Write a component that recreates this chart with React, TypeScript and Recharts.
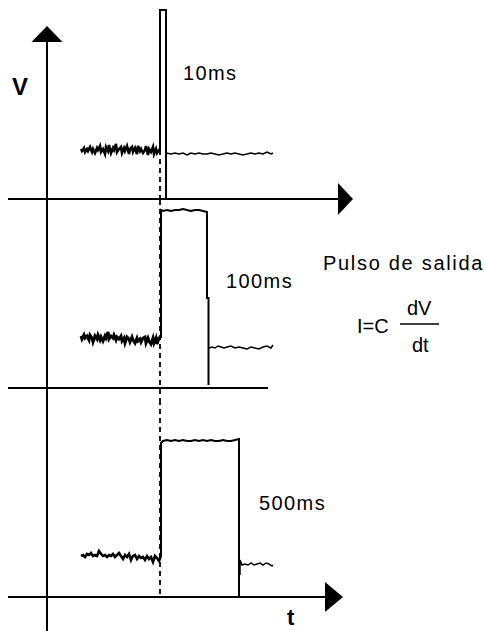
import React from 'react';
import { ComposedChart, Line, Scatter, XAxis, YAxis } from 'recharts';

type P = { t: number; v: number };
const mk = (pairs: number[][]): P[] => pairs.map(([t, v]) => ({ t, v }));

// time axis (arbitrary units, 0 = vertical axis), voltage (arbitrary units, 0 = each panel's time axis)
const TIME_DOMAIN = [-47, 439];

// ---- Panel 1 : 10 ms ----
const pre1 = mk([[34,50],[35,48],[37,51],[38,47],[40,50],[41,48],[43,52],[45,47],[46,50],[48,46],[50,51],[51,49],[53,53],[54,47],[56,50],[58,45],[59,52],[61,48],[62,54],[64,46],[66,51],[67,49],[69,55],[70,47],[72,50],[74,52],[75,46],[77,51],[78,48],[80,53],[82,45],[83,50],[85,52],[86,47],[88,51],[90,45],[91,53],[93,48],[94,50],[96,46],[98,49],[99,53],[101,44],[102,50],[104,47],[106,52],[107,45],[109,50],[110,46],[112,49],[113,49]]);
const spike1 = mk([[113,49],[113,189],[119,189],[119,0]]);
const post1 = mk([[119,46],[124,45],[128,46],[132,45],[136,46],[140,44],[144,46],[148,45],[152,46],[156,45],[160,45],[164,46],[168,45],[172,44],[176,45],[180,46],[184,45],[188,46],[192,45],[196,44],[200,45],[204,46],[208,45],[212,46],[216,45],[220,47],[224,45],[226,46]]);

// ---- Panel 2 : 100 ms ----
const pre2 = mk([[34,52],[35,49],[37,53],[38,50],[40,52],[42,48],[43,53],[45,50],[46,46],[48,52],[50,49],[51,53],[53,48],[54,51],[56,47],[58,52],[59,50],[61,56],[62,49],[64,52],[66,50],[67,53],[69,48],[70,51],[72,49],[74,52],[75,47],[77,50],[78,45],[80,51],[82,49],[83,46],[85,51],[86,48],[88,45],[90,50],[91,47],[93,49],[94,46],[96,50],[98,51],[99,45],[101,50],[102,47],[104,44],[106,50],[107,45],[109,50],[110,44],[112,50],[114,50]]);
const pulse2 = mk([[114,50],[114,178],[116,177],[120,178],[124,177],[128,178],[132,178],[136,179],[140,178],[144,177],[148,178],[152,178],[156,177],[160,176],[160,90],[161.5,90],[161.5,3]]);
const post2 = mk([[162,40],[165,41],[168,40],[171,42],[174,41],[177,40],[180,41],[184,42],[188,40],[192,41],[196,40],[200,39],[204,41],[208,40],[212,39],[216,41],[220,42],[224,40],[226,43]]);

// ---- Panel 3 : 500 ms ----
const pre3 = mk([[34,41],[36,42],[38,40],[40,43],[42,42],[44,44],[46,41],[48,42],[50,41],[52,46],[54,43],[56,41],[58,42],[60,40],[62,42],[64,41],[66,43],[68,40],[70,42],[72,44],[74,41],[76,38],[78,42],[80,40],[82,43],[84,37],[86,41],[88,42],[90,38],[92,41],[94,39],[96,40],[98,37],[100,41],[102,38],[104,40],[106,35],[108,41],[110,39],[112,36],[114,41]]);
const pulse3 = mk([[114,41],[114,154],[116,156],[120,157],[124,156],[128,157],[132,156],[136,157],[140,156],[144,156],[148,157],[152,156],[156,157],[160,156],[164,157],[168,156],[172,156],[176,157],[180,156],[184,156],[188,157],[192,158],[192,0]]);
const post3 = mk([[193,22],[193,37],[195,32],[198,33],[201,32],[204,34],[207,32],[210,33],[213,34],[216,32],[219,34],[222,33],[225,31],[226,32]]);

const LABELS = { pulse1: '10ms', pulse2: '100ms', pulse3: '500ms', vAxis: 'V', tAxis: 't', title: 'Pulso de salida', formula: 'I=C', num: 'dV', den: 'dt' };

const RightArrow = (len: number, half: number) => (props: any) => {
  const { cx, cy } = props;
  return <polygon points={`${cx},${cy} ${cx - len},${cy - half} ${cx - len},${cy + half}`} fill="#000" />;
};
const UpArrow = (len: number, half: number) => (props: any) => {
  const { cx, cy } = props;
  return <polygon points={`${cx},${cy} ${cx - half},${cy + len} ${cx + half},${cy + len}`} fill="#000" />;
};

const ln = (data: P[], key: string, w = 2, dash?: string) => (
  <Line key={key} data={data} dataKey="v" type="linear" stroke="#000" strokeWidth={w} strokeDasharray={dash}
    dot={false} activeDot={false} isAnimationActive={false} />
);

// every panel is drawn on a full-size, transparent chart; only its voltage domain differs
type PanelProps = { vDomain: number[]; children: React.ReactNode };
const Panel = ({ vDomain, children }: PanelProps) => (
  <div style={{ position: 'absolute', left: 0, top: 0, width: 486, height: 631 }}>
    <ComposedChart width={486} height={631} margin={{ top: 0, right: 0, bottom: 0, left: 0 }}>
      <XAxis type="number" dataKey="t" domain={TIME_DOMAIN} hide />
      <YAxis type="number" dataKey="v" domain={vDomain} hide />
      {children}
    </ComposedChart>
  </div>
);

export default function App() {
  const font = '"Liberation Sans", Arial, sans-serif';
  return (
    <div style={{ position: 'absolute', left: 0, top: 0, width: 486, height: 631, background: '#fff', overflow: 'hidden' }}>
      <Panel vDomain={[-432, 199]}>
        {ln(mk([[0, 170], [0, -1]]), 'vax1')}
        {ln(mk([[-39, 0], [300, 0]]), 'hax1')}
        {ln(mk([[113, 49], [113, 0]]), 'dash1', 1.8, '5 4')}
        {ln(pre1, 'pre1', 2.6)}
        {ln(spike1, 'spike1', 2)}
        {ln(post1, 'post1', 1.5)}
        <Scatter data={mk([[306, 0]])} dataKey="v" shape={RightArrow(15, 16)} isAnimationActive={false} />
        <Scatter data={mk([[0, 173]])} dataKey="v" shape={UpArrow(16, 15.5)} isAnimationActive={false} />
      </Panel>
      <Panel vDomain={[-243, 388]}>
        {ln(mk([[0, 189], [0, -12]]), 'vax2')}
        {ln(mk([[-39, 0], [221, 0]]), 'hax2')}
        {ln(mk([[113, 188], [113, -12]]), 'dash2', 1.8, '5 4')}
        {ln(pre2, 'pre2', 3)}
        {ln(pulse2, 'pulse2', 2)}
        {ln(post2, 'post2', 1.5)}
      </Panel>
      <Panel vDomain={[-34, 597]}>
        {ln(mk([[0, 197], [0, -34]]), 'vax3')}
        {ln(mk([[-39, 0], [290, 0]]), 'hax3')}
        {ln(mk([[113, 197], [113, 0]]), 'dash3', 1.8, '5 4')}
        {ln(pre3, 'pre3', 2.6)}
        {ln(pulse3, 'pulse3', 2)}
        {ln(post3, 'post3', 1.5)}
        <Scatter data={mk([[296, 0]])} dataKey="v" shape={RightArrow(18, 15)} isAnimationActive={false} />
      </Panel>
      <svg width={486} height={631} style={{ position: 'absolute', left: 0, top: 0, pointerEvents: 'none' }}>
        <g fontFamily={font} fill="#000">
          <text x={12} y={95} fontSize={24} fontWeight="bold">{LABELS.vAxis}</text>
          <text x={287} y={625} fontSize={22} fontWeight="bold">{LABELS.tAxis}</text>
          <text x={183} y={80} fontSize={20} letterSpacing={1.4}>{LABELS.pulse1}</text>
          <text x={226} y={288} fontSize={20} letterSpacing={1.4}>{LABELS.pulse2}</text>
          <text x={259} y={510} fontSize={20} letterSpacing={1.4}>{LABELS.pulse3}</text>
          <text x={323} y={270} fontSize={20} letterSpacing={1.7}>{LABELS.title}</text>
          <text x={357} y={333} fontSize={20}>{LABELS.formula}</text>
          <text x={407} y={315} fontSize={20}>{LABELS.num}</text>
          <line x1={400} x2={439} y1={324} y2={324} stroke="#000" strokeWidth={1.5} />
          <text x={412} y={352} fontSize={20}>{LABELS.den}</text>
        </g>
      </svg>
    </div>
  );
}
